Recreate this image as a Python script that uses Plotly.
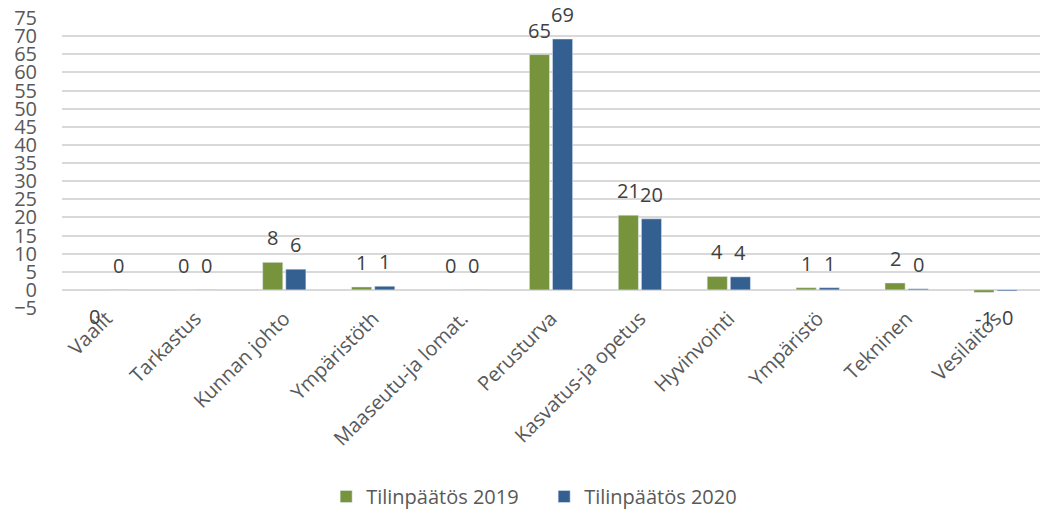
import plotly.graph_objects as go

categories = ["Vaalit", "Tarkastus", "Kunnan johto", "Ympäristöth", "Maaseutu-ja lomat.",
              "Perusturva", "Kasvatus-ja opetus", "Hyvinvointi", "Ympäristö", "Tekninen", "Vesilaitos"]
tp2019 = [-0.1, 0.1, 7.6, 0.8, 0.1, 64.9, 20.6, 3.7, 0.6, 1.9, -0.7]
tp2020 = [0.1, 0.1, 5.7, 1.0, 0.1, 69.2, 19.6, 3.6, 0.6, 0.3, -0.3]
yticks = list(range(-5, 80, 5))

def labels(vals):
    out = []
    for v in vals:
        r = int(round(v))
        out.append(str(r if r != 0 else 0))
    return out

font_family = "Open Sans, Liberation Sans, sans-serif"
colors = ["#77933C", "#335F91"]
series = [("Tilinpäätös 2019", tp2019), ("Tilinpäätös 2020", tp2020)]

fig = go.Figure()
for (name, vals), col in zip(series, colors):
    fig.add_bar(name=name, x=categories, y=vals, marker_color=col, hoverinfo="x+y")

# data labels as annotations (outside end, Excel style)
offsets = [-11.6, 11.6]
for (name, vals), dx in zip(series, offsets):
    for cat, v, t in zip(categories, vals, labels(vals)):
        fig.add_annotation(x=cat, y=v, text=t, showarrow=False, xshift=dx,
                           yanchor="bottom" if v >= 0 else "top",
                           yshift=9 if v >= 0 else -11,
                           font=dict(size=20, color="#404040", family=font_family))

fig.update_layout(
    width=1043, height=512,
    margin=dict(l=62, r=3, t=18, b=204, autoexpand=False),
    paper_bgcolor="white", plot_bgcolor="white",
    barmode="group", bargap=0.48, bargroupgap=0.13,
    font=dict(family=font_family, size=20, color="#595959"),
    showlegend=True,
    legend=dict(orientation="h", x=0.493, xanchor="center", y=-0.65, yanchor="middle",
                font=dict(size=20, color="#595959"), itemwidth=30,
                entrywidth=173, entrywidthmode="pixels"),
)
fig.update_yaxes(range=[-5, 75], tickvals=yticks, showgrid=True, gridcolor="#D9D9D9", gridwidth=1.5,
                 zeroline=True, zerolinecolor="#D9D9D9", zerolinewidth=1.5, automargin=False,
                 ticklabelstandoff=24, tickfont=dict(size=20, color="#595959"), showline=False)
fig.update_xaxes(tickangle=-45, tickfont=dict(size=20, color="#595959"), showline=False,
                 showgrid=False, automargin=False, ticklabelstandoff=-6)

fig.write_html("out.html", config={"displayModeBar": False},
               post_script="document.body.style.margin='0px';document.body.style.overflow='hidden';")
